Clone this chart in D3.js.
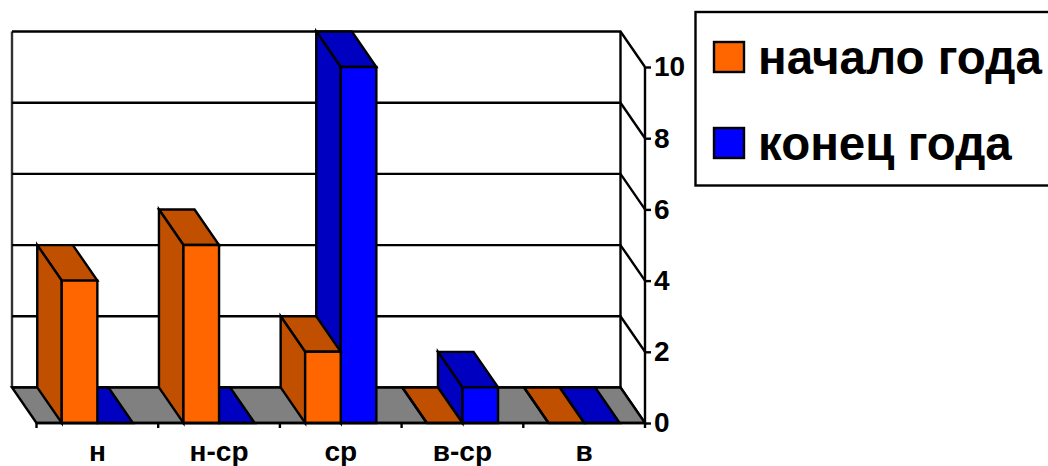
<!DOCTYPE html>
<html>
<head>
<meta charset="utf-8">
<script src="https://cdn.jsdelivr.net/npm/d3@7"></script>
<style>
  html,body{margin:0;padding:0;background:#fff;overflow:hidden;}
  svg{display:block;}
  text{font-family:"Liberation Sans",Arial,sans-serif;font-weight:bold;fill:#000;}
</style>
</head>
<body>
<svg id="chart" width="1048" height="466"></svg>
<script>
var categories = ['н','н-ср','ср','в-ср','в'];
var startYear = [4,5,2,0,0];
var endYear = [0,0,10,1,0];
var yTicks = [0,2,4,6,8,10];
var seriesNames = ['начало года','конец года'];

var svg = d3.select('#chart');

// depth of the fake 3d box
var dx = 24.5, dy = 35.5;
var y = d3.scaleLinear().domain([0,10]).range([423,67]);
var x = d3.scaleBand().domain(categories).range([36.5,645]);
var bw = 35.6;
var lineW = 2.4;

var colors = {
  orange:{front:'#ff6600',dark:'#c05000'},
  blue:{front:'#0000ff',dark:'#0000c0'}
};

function poly(pts,fill){
  return svg.append('polygon')
    .attr('points',pts.map(function(p){return p.join(',');}).join(' '))
    .attr('fill',fill)
    .attr('stroke','#000')
    .attr('stroke-width',lineW)
    .attr('stroke-linejoin','miter');
}

// back wall
svg.append('line').attr('x1',12).attr('x2',12).attr('y1',y(10)-dy).attr('y2',y(0)-dy)
  .attr('stroke','#333').attr('stroke-width',lineW);
svg.append('line').attr('x1',620.5).attr('x2',620.5).attr('y1',y(10)-dy).attr('y2',y(0)-dy)
  .attr('stroke','#000').attr('stroke-width',lineW);

// grid lines, they break round the corner to the axis
yTicks.forEach(function(t){
  svg.append('polyline')
    .attr('points',[[12,y(t)-dy],[620.5,y(t)-dy],[645,y(t)]].map(function(p){return p.join(',');}).join(' '))
    .attr('fill','none')
    .attr('stroke','#000')
    .attr('stroke-width',lineW);
});

// floor
poly([[36.5-dx,y(0)-dy],[645-dx,y(0)-dy],[645,y(0)],[36.5,y(0)]],'#808080');

function drawBar(x0,val,c){
  var x1 = x0+bw, top = y(val), bot = y(0);
  poly([[x0-dx,top-dy],[x1-dx,top-dy],[x1,top],[x0,top]],c.dark);
  poly([[x0-dx,top-dy],[x0,top],[x0,bot],[x0-dx,bot-dy]],c.dark);
  if(val>0){
    poly([[x0,top],[x1,top],[x1,bot],[x0,bot]],c.front);
  }
}

// blue goes first, orange sits in front of it
categories.forEach(function(cat,i){
  var mid = x(cat)+x.bandwidth()/2;
  drawBar(mid,endYear[i],colors.blue);
  drawBar(mid-bw,startYear[i],colors.orange);
});

// value axis
var yAxis = svg.append('g')
  .attr('transform','translate(645,0)')
  .call(d3.axisRight(y).tickValues(yTicks).tickSize(6).tickPadding(3));
yAxis.selectAll('path,line').attr('stroke','#000').attr('stroke-width',lineW);
yAxis.select('.domain').attr('d','M0,'+y(10)+'V'+y(0));
yAxis.selectAll('text').style('font-size','28px').style('font-family','"Liberation Sans"').style('font-weight','bold').attr('fill','#000');

// category axis, ticks sit between the categories
svg.append('line').attr('x1',36.5).attr('x2',645).attr('y1',y(0)).attr('y2',y(0))
  .attr('stroke','#000').attr('stroke-width',lineW);
categories.concat(['']).forEach(function(cat,i){
  var tx = 36.5+i*x.step();
  svg.append('line').attr('x1',tx).attr('x2',tx).attr('y1',y(0)).attr('y2',y(0)+5)
    .attr('stroke','#000').attr('stroke-width',lineW);
});
svg.selectAll('text.cat').data(categories).enter().append('text')
  .attr('class','cat')
  .attr('x',function(d){return x(d)+x.bandwidth()/2;})
  .attr('y',461)
  .attr('text-anchor','middle')
  .style('font-size','28px')
  .text(function(d){return d;});

// legend
svg.append('rect').attr('x',695.5).attr('y',12).attr('width',360).attr('height',173.5)
  .attr('fill','#fff').attr('stroke','#000').attr('stroke-width',lineW);
var legendColors = [colors.orange.front,colors.blue.front];
var legendY = [42,128];
seriesNames.forEach(function(name,i){
  svg.append('rect').attr('x',714).attr('y',legendY[i]).attr('width',30).attr('height',30)
    .attr('fill',legendColors[i]).attr('stroke','#000').attr('stroke-width',lineW);
  svg.append('text').attr('x',758).attr('y',legendY[i]+32)
    .style('font-size','47.5px')
    .text(name);
});
</script>
</body>
</html>
